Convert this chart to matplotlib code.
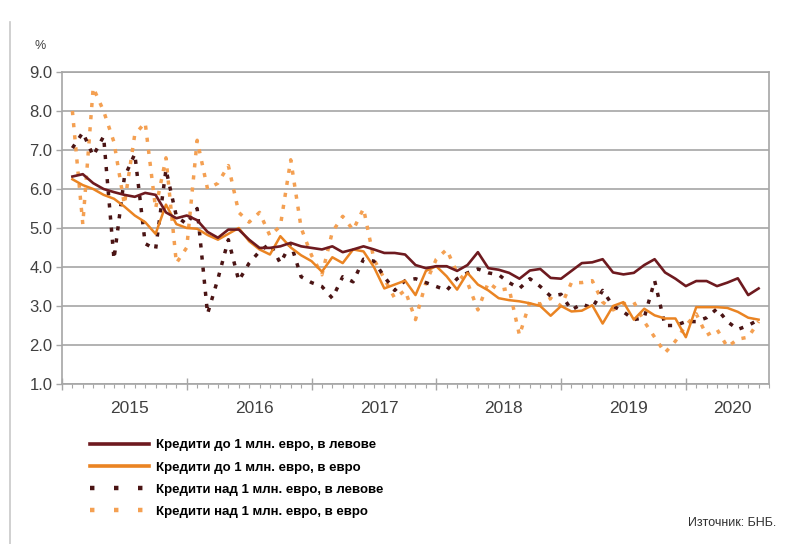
import numpy as np
import matplotlib
matplotlib.use("Agg")
import matplotlib.pyplot as plt
from matplotlib.lines import Line2D

# monthly data, Jan 2015 - Jul 2020
years = ["2015", "2016", "2017", "2018", "2019", "2020"]

bgn_small = [6.32, 6.38, 6.15, 6.0, 5.92, 5.85, 5.8, 5.9, 5.85, 5.4, 5.25, 5.32,
             5.2, 4.9, 4.75, 4.96, 4.96, 4.7, 4.49, 4.49, 4.53, 4.62, 4.53, 4.49,
             4.45, 4.53, 4.38, 4.45, 4.53, 4.45, 4.36, 4.36, 4.32, 4.05, 3.97, 4.02,
             4.02, 3.9, 4.05, 4.38, 3.97, 3.93, 3.85, 3.7, 3.91, 3.95, 3.72, 3.7,
             3.9, 4.1, 4.12, 4.2, 3.86, 3.81, 3.85, 4.05, 4.2, 3.86, 3.7, 3.51,
             3.64, 3.64, 3.51, 3.6, 3.71, 3.28, 3.45]

eur_small = [6.25, 6.1, 6.0, 5.85, 5.75, 5.55, 5.32, 5.15, 4.85, 5.6, 5.1, 5.0,
             4.98, 4.82, 4.7, 4.85, 5.0, 4.66, 4.45, 4.32, 4.79, 4.5, 4.3, 4.15,
             3.88, 4.25, 4.1, 4.45, 4.4, 4.0, 3.45, 3.55, 3.65, 3.28, 3.9, 4.02,
             3.76, 3.42, 3.85, 3.55, 3.4, 3.2, 3.15, 3.12, 3.07, 3.0, 2.75, 3.0,
             2.86, 2.88, 3.02, 2.55, 3.0, 3.1, 2.65, 2.93, 2.76, 2.68, 2.68, 2.2,
             2.97, 2.97, 2.97, 2.95, 2.85, 2.7, 2.65]

bgn_large = [7.05, 7.45, 6.85, 7.35, 4.2, 6.3, 6.9, 4.6, 4.45, 6.5, 5.3, 5.1,
             5.5, 2.8, 3.7, 4.7, 3.65, 4.1, 4.4, 4.6, 4.1, 4.6, 3.75, 3.6,
             3.5, 3.2, 3.75, 3.62, 4.2, 4.15, 3.75, 3.4, 3.65, 3.7, 3.6, 3.5,
             3.4, 3.7, 3.85, 3.95, 3.85, 3.8, 3.6, 3.45, 3.7, 3.5, 3.25, 3.3,
             2.9, 3.05, 2.95, 3.4, 3.0, 2.85, 2.65, 2.7, 3.65, 2.5, 2.5, 2.6,
             2.6, 2.7, 2.93, 2.6, 2.4, 2.5, 2.65]

eur_large = [8.0, 5.1, 8.6, 8.0, 7.2, 5.6, 7.4, 7.7, 5.5, 6.8, 4.1, 4.5,
             7.25, 6.0, 6.15, 6.6, 5.4, 5.15, 5.4, 4.8, 5.05, 6.75, 5.0, 4.3,
             3.8, 4.9, 5.3, 4.95, 5.5, 4.2, 3.7, 3.2, 3.4, 2.65, 3.6, 4.2,
             4.45, 3.85, 3.6, 2.9, 3.6, 3.4, 3.45, 2.25, 3.1, 3.05, 3.2, 3.0,
             3.6, 3.6, 3.65, 3.1, 2.9, 3.05, 3.1, 2.6, 2.2, 1.8, 2.1, 2.5,
             2.8, 2.25, 2.4, 1.95, 2.15, 2.2, 2.6]

labels = ["Кредити до 1 млн. евро, в левове",
          "Кредити до 1 млн. евро, в евро",
          "Кредити над 1 млн. евро, в левове",
          "Кредити над 1 млн. евро, в евро"]

c_dark = "#6e1a1f"
c_orange = "#ea8423"
c_dark_d = "#4a1414"
c_light_d = "#f4a052"
grid_c = "#a6a6a6"
txt_c = "#404040"

x = np.arange(len(bgn_small))

fig = plt.figure(figsize=(8.03, 5.44), dpi=100)
ax = fig.add_axes([62 / 803, 1 - 384 / 544, (769 - 62) / 803, (384 - 72) / 544])

ax.plot(x, eur_large, color=c_light_d, lw=2.5, dashes=(1.2, 2.3), zorder=2)
ax.plot(x, bgn_large, color=c_dark_d, lw=2.5, dashes=(1.2, 2.3), zorder=3)
ax.plot(x, eur_small, color=c_orange, lw=1.8, zorder=4)
ax.plot(x, bgn_small, color=c_dark, lw=1.9, zorder=5)

ax.set_ylim(1, 9)
ax.set_yticks(np.arange(1, 10))
ax.set_yticklabels([f"{v:.1f}" for v in range(1, 10)], fontsize=12, color=txt_c,
                   family="Liberation Sans")
ax.yaxis.grid(True, color=grid_c, lw=1.2)
ax.set_axisbelow(True)

ax.set_xlim(-1, 67)
ax.set_xticks(np.arange(-1, 68, 12))
ax.set_xticks(np.arange(-1, 68, 1), minor=True)
ax.set_xticklabels([])
ax.tick_params(axis="x", which="major", length=8, width=1.0, color=grid_c, direction="inout")
ax.tick_params(axis="x", which="minor", length=3, width=0.8, color=grid_c, direction="out")
ax.tick_params(axis="y", length=4, width=1.0, color=grid_c, pad=3)

for s in ["left", "right", "bottom", "top"]:
    ax.spines[s].set_color(grid_c)
    ax.spines[s].set_linewidth(1.2)

centers = [5.5, 17.5, 29.5, 41.5, 53.5, 63.5]
for cx, yr in zip(centers, years):
    ax.text(cx, -0.055, yr, transform=ax.get_xaxis_transform(), ha="center", va="top",
            fontsize=12.5, color=txt_c, family="Liberation Sans")

fig.text(40 / 803, 1 - 46 / 544, "%", ha="center", va="center", fontsize=9,
         color=txt_c, family="Liberation Sans")

# outer frame line on the left
fig.add_artist(Line2D([10 / 803, 10 / 803], [0, 1 - 22 / 544], transform=fig.transFigure,
                      color="#c8c8c8", lw=1.2))

handles = [Line2D([], [], color=c_dark, lw=2.6),
           Line2D([], [], color=c_orange, lw=2.6),
           Line2D([], [], color=c_dark_d, lw=3.2, dashes=(1.0, 4.4)),
           Line2D([], [], color=c_light_d, lw=3.2, dashes=(1.0, 4.4))]
fig.legend(handles, labels, loc="upper left", bbox_to_anchor=(90 / 803, 1 - 439 / 544),
           frameon=False, handlelength=4.5, handletextpad=0.5, labelspacing=0.76,
           borderaxespad=0, borderpad=0,
           prop={"family": "Liberation Sans", "weight": "bold", "size": 9.5})

fig.text(776 / 803, 1 - 523 / 544, "Източник: БНБ.", ha="right", va="center", fontsize=9,
         color="#303030", family="Liberation Sans")

fig.savefig("out.png", dpi=100)
